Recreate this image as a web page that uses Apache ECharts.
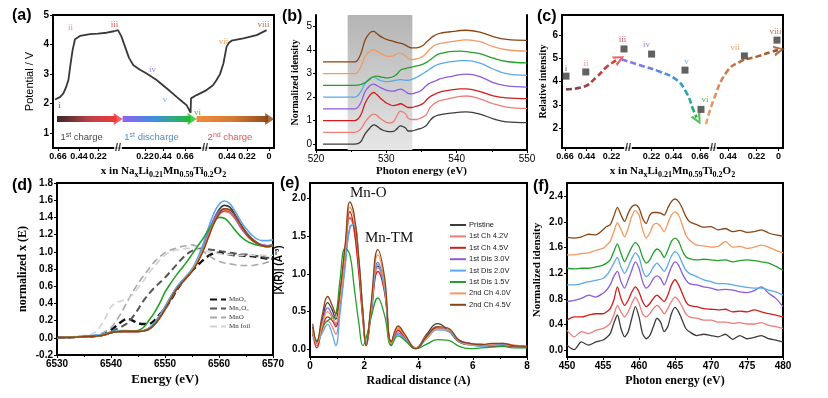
<!DOCTYPE html>
<html>
<head>
<meta charset="utf-8">
<script src="https://cdn.jsdelivr.net/npm/echarts@6.0.0/dist/echarts.min.js"></script>
<style>
  html, body { margin: 0; padding: 0; background: #fff; }
  #chart { width: 828px; height: 398px; }
</style>
</head>
<body>
<div id="chart"></div>
<script>
// ---------- shared ----------
const sampleNames = ['Pristine', '1st Ch 4.2V', '1st Ch 4.5V', '1st Dis 3.0V', '1st Dis 2.0V', '1st Dis 1.5V', '2nd Ch 4.0V', '2nd Ch 4.5V'];
const sampleColors = ['#3c3c3c', '#f07c78', '#d01e1e', '#8c5cdc', '#5aaae8', '#23a02a', '#f29a62', '#8b4513'];
const romanLabels = ['i', 'ii', 'iii', 'iv', 'v', 'vi', 'vii', 'viii'];
const romanColors = ['#333333', '#e87a70', '#d62a2a', '#8a60d8', '#4aa0e0', '#2aa02a', '#f08a40', '#a0501e'];
const xTickLabels = ['0.66', '0.44', '0.22', '0.22', '0.44', '0.66', '0.44', '0.22', '0'];

// ---------- (a) charge / discharge ----------
const aTickPos = [0, 1.05, 2.0, 4.35, 5.25, 6.35, 8.45, 9.45, 10.55];
const aBreaks = [3.0, 7.35];
const aPos = [-0.15, 0.1, 0.27, 0.4, 0.52, 0.62, 0.73, 0.85, 1.1, 1.6, 2.0, 2.43, 2.8, 3.0, 3.1, 3.18, 3.35, 3.55, 3.77, 4.1, 4.43, 4.93, 5.43, 5.93, 6.25, 6.43, 6.55, 6.63, 6.65, 6.93, 7.43, 7.75, 7.93, 8.1, 8.27, 8.43, 8.55, 8.68, 9.27, 9.93, 10.43];
const aVolt = [2.14, 2.22, 2.35, 2.55, 2.8, 3.3, 3.81, 4.18, 4.29, 4.35, 4.37, 4.4, 4.45, 4.49, 4.52, 4.26, 3.93, 3.55, 3.3, 3.15, 3.02, 2.8, 2.52, 2.23, 2.05, 1.95, 1.8, 1.69, 2.18, 2.29, 2.46, 2.62, 2.8, 3.0, 3.36, 3.93, 4.06, 4.13, 4.21, 4.32, 4.49];
const aRomanPos = [0.07, 0.63, 2.82, 4.73, 5.35, 6.98, 8.27, 10.27];
const aRomanV = [1.93, 4.58, 4.66, 3.14, 2.15, 1.68, 4.1, 4.66];
const aStageStart = [-0.05, 3.23, 6.93];
const aStageEnd = [3.23, 6.93, 10.8];
const aStageV = 1.48;
const aStageLabelPos = [1.18, 4.68, 8.6];

// ---------- (b) O K-edge ----------
const bE = [521, 525.5, 526.3, 527, 527.7, 528.2, 528.6, 529.1, 529.6, 530, 530.5, 531, 531.5, 532, 532.7, 533.1, 533.6, 534.3, 534.8, 535.3, 535.7, 536.2, 536.7, 537.2, 537.6, 538.6, 539.5, 540.5, 541.4, 543.3, 545.2, 547.1, 550];
const bPristine = [0, 0, 0.08, 0.45, 0.7, 0.82, 0.78, 0.66, 0.58, 0.55, 0.53, 0.54, 0.65, 0.78, 0.7, 0.56, 0.56, 0.62, 0.66, 0.72, 0.8, 1.0, 1.15, 1.22, 1.25, 1.3, 1.33, 1.36, 1.37, 1.28, 1.08, 0.95, 0.92];
const bCh42 = [0.5, 0.5, 0.62, 0.95, 1.2, 1.28, 1.24, 1.1, 1.0, 0.93, 0.9, 0.95, 1.2, 1.4, 1.3, 1.1, 1.05, 1.05, 1.1, 1.17, 1.26, 1.55, 1.7, 1.8, 1.85, 1.92, 1.98, 2.03, 2.05, 1.93, 1.72, 1.58, 1.52];
const bCh45 = [1.0, 1.0, 1.2, 1.75, 2.1, 2.2, 2.12, 1.98, 1.85, 1.75, 1.68, 1.64, 1.67, 1.72, 1.62, 1.56, 1.56, 1.62, 1.66, 1.75, 1.88, 2.02, 2.1, 2.17, 2.22, 2.28, 2.32, 2.35, 2.35, 2.24, 2.06, 1.97, 1.94];
const bDis30 = [1.5, 1.5, 1.72, 2.25, 2.5, 2.56, 2.5, 2.42, 2.35, 2.3, 2.27, 2.26, 2.3, 2.34, 2.24, 2.16, 2.14, 2.2, 2.25, 2.38, 2.5, 2.6, 2.66, 2.72, 2.78, 2.85, 2.9, 2.96, 2.98, 2.88, 2.62, 2.48, 2.43];
const bDis20 = [2.0, 2.0, 2.2, 2.6, 2.8, 2.86, 2.8, 2.72, 2.68, 2.66, 2.67, 2.7, 2.73, 2.75, 2.72, 2.72, 2.76, 2.85, 2.93, 3.02, 3.1, 3.2, 3.3, 3.38, 3.42, 3.48, 3.52, 3.56, 3.56, 3.45, 3.2, 3.0, 2.93];
const bDis15 = [2.5, 2.5, 2.53, 2.62, 2.78, 2.88, 2.9, 2.87, 2.84, 2.82, 2.83, 2.88, 2.98, 3.15, 3.22, 3.25, 3.28, 3.33, 3.37, 3.42, 3.48, 3.58, 3.7, 3.8, 3.85, 3.92, 3.95, 3.96, 3.94, 3.85, 3.66, 3.52, 3.46];
const bCh240 = [3.0, 3.0, 3.25, 3.75, 3.97, 4.02, 3.97, 3.88, 3.8, 3.75, 3.74, 3.76, 3.85, 3.88, 3.76, 3.65, 3.6, 3.63, 3.68, 3.76, 3.88, 4.05, 4.18, 4.25, 4.28, 4.33, 4.38, 4.42, 4.44, 4.37, 4.15, 4.02, 3.96];
const bCh245 = [3.5, 3.5, 3.8, 4.45, 4.75, 4.8, 4.72, 4.6, 4.52, 4.46, 4.42, 4.38, 4.33, 4.3, 4.22, 4.15, 4.1, 4.1, 4.14, 4.22, 4.35, 4.48, 4.6, 4.68, 4.72, 4.77, 4.8, 4.84, 4.85, 4.77, 4.58, 4.46, 4.42];
const bShade = [524.5, 533.7];

// ---------- (c) relative intensity ----------
const cTickPos = [-0.1, 0.98, 2.23, 4.23, 5.32, 6.65, 8.05, 9.48, 10.57];
const cBreaks = [3.05, 7.3];
const cPos = [-0.05, 0.94, 2.85, 4.23, 5.9, 6.7, 8.87, 10.5];
const cInt = [4.23, 4.41, 5.4, 5.18, 4.49, 2.8, 5.1, 5.78];
const cRomanPos = [-0.05, 0.95, 2.78, 3.98, 5.98, 6.9, 8.4, 10.43];
const cRomanV = [4.57, 4.78, 5.79, 5.6, 4.85, 3.21, 5.45, 6.13];
const cTrend1Pos = [-0.05, 0.82, 1.49, 1.99, 2.5];
const cTrend1V = [3.66, 3.77, 4.2, 4.63, 4.93];
const cTrend2Pos = [2.74, 3.65, 4.65, 5.49, 5.99, 6.32, 6.48];
const cTrend2V = [4.95, 4.7, 4.42, 4.06, 3.49, 2.77, 2.45];
const cTrend3Pos = [6.95, 7.32, 7.99, 8.65, 9.49, 10.24, 10.55];
const cTrend3V = [2.16, 3.19, 4.42, 4.85, 5.07, 5.28, 5.35];
const cHeadPos = [2.62, 6.55, 10.62];
const cHeadV = [4.98, 2.36, 5.36];

// ---------- (d) Mn K-edge XANES ----------
const dE = [6530, 6534, 6537, 6538.5, 6540, 6541, 6542, 6543, 6544, 6545, 6546, 6547, 6548, 6549, 6550, 6551, 6552, 6553, 6554, 6555, 6556, 6557, 6558, 6559, 6560, 6561, 6562, 6563, 6564, 6565, 6566, 6567, 6568, 6569, 6570];
const dPristine = [0, 0.01, 0.02, 0.03, 0.06, 0.07, 0.075, 0.075, 0.075, 0.075, 0.08, 0.11, 0.17, 0.26, 0.36, 0.47, 0.57, 0.65, 0.71, 0.78, 0.88, 1.02, 1.2, 1.37, 1.49, 1.54, 1.52, 1.43, 1.32, 1.23, 1.16, 1.11, 1.08, 1.07, 1.08];
const dCh42 = [0, 0.01, 0.02, 0.03, 0.06, 0.07, 0.075, 0.075, 0.075, 0.075, 0.08, 0.1, 0.15, 0.24, 0.34, 0.45, 0.56, 0.64, 0.71, 0.79, 0.9, 1.04, 1.2, 1.34, 1.44, 1.47, 1.45, 1.38, 1.28, 1.2, 1.14, 1.1, 1.08, 1.07, 1.07];
const dCh45 = [0, 0.01, 0.02, 0.03, 0.06, 0.07, 0.075, 0.075, 0.075, 0.075, 0.08, 0.1, 0.15, 0.23, 0.33, 0.44, 0.55, 0.63, 0.7, 0.78, 0.89, 1.03, 1.19, 1.33, 1.43, 1.48, 1.47, 1.4, 1.3, 1.21, 1.14, 1.1, 1.07, 1.06, 1.07];
const dDis30 = [0, 0.01, 0.02, 0.03, 0.06, 0.07, 0.075, 0.075, 0.075, 0.075, 0.08, 0.11, 0.16, 0.25, 0.35, 0.46, 0.56, 0.64, 0.71, 0.79, 0.9, 1.05, 1.22, 1.37, 1.47, 1.5, 1.47, 1.39, 1.29, 1.21, 1.15, 1.1, 1.08, 1.07, 1.08];
const dDis20 = [0, 0.015, 0.03, 0.04, 0.07, 0.08, 0.085, 0.085, 0.08, 0.08, 0.085, 0.11, 0.17, 0.26, 0.36, 0.47, 0.57, 0.65, 0.72, 0.8, 0.92, 1.08, 1.27, 1.44, 1.55, 1.59, 1.56, 1.47, 1.36, 1.27, 1.2, 1.15, 1.13, 1.13, 1.14];
const dDis15 = [0, 0.01, 0.02, 0.03, 0.06, 0.07, 0.075, 0.08, 0.08, 0.085, 0.12, 0.2, 0.29, 0.4, 0.53, 0.63, 0.72, 0.8, 0.88, 0.97, 1.06, 1.15, 1.25, 1.34, 1.4, 1.39, 1.33, 1.25, 1.18, 1.13, 1.1, 1.08, 1.07, 1.07, 1.08];
const dCh240 = [0, 0.01, 0.02, 0.03, 0.06, 0.07, 0.075, 0.075, 0.075, 0.075, 0.08, 0.1, 0.15, 0.23, 0.33, 0.44, 0.55, 0.63, 0.7, 0.78, 0.89, 1.02, 1.18, 1.33, 1.44, 1.49, 1.48, 1.41, 1.31, 1.22, 1.15, 1.1, 1.07, 1.06, 1.07];
const dCh245 = [0, 0.01, 0.02, 0.03, 0.06, 0.07, 0.075, 0.075, 0.075, 0.075, 0.08, 0.1, 0.15, 0.23, 0.33, 0.44, 0.55, 0.63, 0.7, 0.77, 0.87, 1.0, 1.16, 1.32, 1.44, 1.5, 1.49, 1.42, 1.32, 1.22, 1.15, 1.1, 1.07, 1.06, 1.07];
const refNames = ['MnO₂', 'Mn₂O₃', 'MnO', 'Mn foil'];
const dMnO2 = [0, 0.01, 0.02, 0.04, 0.09, 0.14, 0.19, 0.22, 0.2, 0.17, 0.16, 0.16, 0.2, 0.27, 0.34, 0.43, 0.54, 0.63, 0.71, 0.78, 0.84, 0.9, 0.95, 0.98, 0.99, 0.98, 0.97, 0.96, 0.96, 0.95, 0.95, 0.94, 0.93, 0.92, 0.92];
const dMn2O3 = [0, 0.01, 0.02, 0.04, 0.07, 0.1, 0.13, 0.17, 0.24, 0.33, 0.43, 0.51, 0.58, 0.64, 0.7, 0.77, 0.84, 0.91, 0.97, 1.01, 1.03, 1.04, 1.03, 1.02, 1.01, 1.0, 0.99, 0.98, 0.97, 0.97, 0.96, 0.95, 0.94, 0.93, 0.93];
const dMnO = [0, 0.01, 0.03, 0.06, 0.12, 0.2, 0.3, 0.42, 0.53, 0.63, 0.72, 0.8, 0.88, 0.94, 0.99, 1.02, 1.04, 1.06, 1.07, 1.08, 1.06, 1.01, 0.96, 0.92, 0.89, 0.87, 0.86, 0.85, 0.84, 0.84, 0.84, 0.85, 0.86, 0.88, 0.89];
const dMnFoil = [0, 0.02, 0.06, 0.18, 0.36, 0.41, 0.43, 0.45, 0.5, 0.58, 0.66, 0.75, 0.83, 0.9, 0.96, 1.0, 1.02, 1.03, 1.04, 1.04, 1.03, 1.02, 1.0, 0.99, 0.98, 0.97, 0.97, 0.96, 0.96, 0.96, 0.96, 0.96, 0.96, 0.96, 0.96];

// ---------- (e) Fourier-transformed EXAFS ----------
const eR = [0.1, 0.25, 0.45, 0.65, 0.82, 0.95, 1.1, 1.3, 1.47, 1.62, 1.8, 1.95, 2.07, 2.25, 2.5, 2.75, 3.0, 3.25, 3.5, 3.9, 4.3, 4.7, 5.1, 5.5, 5.9, 6.3, 6.7, 7.1, 7.5, 8.0];
const ePristine = [0.3, 0.1, 0.38, 0.62, 0.52, 0.4, 0.7, 1.3, 1.74, 1.62, 1.1, 0.45, 0.08, 0.55, 1.1, 0.8, 0.1, 0.28, 0.18, 0.02, 0.2, 0.34, 0.25, 0.1, 0.07, 0.07, 0.05, 0.06, 0.04, 0.03];
const eCh42 = [0.2, 0.05, 0.25, 0.38, 0.3, 0.2, 0.55, 1.25, 1.75, 1.6, 1.05, 0.42, 0.06, 0.5, 1.08, 0.78, 0.08, 0.26, 0.17, 0.02, 0.18, 0.28, 0.24, 0.12, 0.08, 0.05, 0.06, 0.08, 0.05, 0.04];
const eCh45 = [0.25, 0.02, 0.28, 0.43, 0.38, 0.3, 0.65, 1.35, 1.82, 1.6, 1.0, 0.38, 0.05, 0.45, 1.03, 0.75, 0.05, 0.25, 0.16, 0.01, 0.16, 0.28, 0.25, 0.1, 0.06, 0.05, 0.04, 0.05, 0.04, 0.03];
const eDis30 = [0.2, 0.08, 0.35, 0.55, 0.45, 0.33, 0.55, 1.15, 1.62, 1.65, 1.15, 0.48, 0.07, 0.52, 1.15, 0.82, 0.07, 0.22, 0.15, 0.02, 0.17, 0.27, 0.26, 0.12, 0.08, 0.05, 0.06, 0.07, 0.05, 0.04];
const eDis20 = [0.15, 0.1, 0.22, 0.33, 0.2, 0.05, 0.45, 1.1, 1.6, 1.66, 1.2, 0.5, 0.08, 0.5, 1.12, 0.8, 0.06, 0.2, 0.13, 0.01, 0.14, 0.26, 0.24, 0.1, 0.06, 0.04, 0.05, 0.06, 0.05, 0.04];
const eDis15 = [0.2, 0.12, 0.3, 0.38, 0.42, 0.45, 0.9, 1.34, 1.25, 0.85, 0.35, 0.05, 0.15, 0.42, 0.68, 0.45, 0.06, 0.18, 0.12, 0.01, 0.07, 0.13, 0.12, 0.04, 0.01, 0.02, 0.03, 0.04, 0.02, 0.02];
const eCh240 = [0.25, 0.08, 0.32, 0.5, 0.42, 0.35, 0.62, 1.3, 1.88, 1.75, 1.15, 0.45, 0.06, 0.55, 1.25, 0.88, 0.08, 0.28, 0.18, 0.02, 0.15, 0.27, 0.26, 0.12, 0.06, 0.05, 0.07, 0.08, 0.06, 0.04];
const eCh245 = [0.34, 0.1, 0.45, 0.7, 0.58, 0.47, 0.75, 1.4, 1.95, 1.8, 1.2, 0.5, 0.05, 0.6, 1.32, 0.95, 0.1, 0.31, 0.2, 0.01, 0.17, 0.3, 0.28, 0.12, 0.08, 0.06, 0.08, 0.08, 0.05, 0.04];

// ---------- (f) Ti L-edge ----------
const fE = [450, 451, 452, 453, 454, 455, 455.5, 456, 456.5, 457, 457.5, 458, 458.5, 459, 459.5, 460, 460.5, 461, 461.5, 462, 462.5, 463, 463.5, 464, 464.5, 465, 465.5, 466, 466.5, 467, 468, 469, 470, 471, 472, 473, 474, 475, 476, 477, 478, 479, 480];
const fPristine = [0.08, 0.01, 0.13, 0.08, 0.13, 0.16, 0.2, 0.26, 0.42, 0.55, 0.34, 0.21, 0.29, 0.5, 0.68, 0.52, 0.26, 0.18, 0.23, 0.37, 0.5, 0.44, 0.29, 0.37, 0.57, 0.67, 0.6, 0.47, 0.34, 0.29, 0.23, 0.25, 0.23, 0.21, 0.25, 0.17, 0.23, 0.18, 0.2, 0.23, 0.18, 0.16, 0.13];
const fCh42 = [0.31, 0.21, 0.29, 0.26, 0.31, 0.34, 0.37, 0.42, 0.55, 0.7, 0.6, 0.52, 0.6, 0.73, 0.83, 0.73, 0.57, 0.52, 0.57, 0.65, 0.7, 0.65, 0.57, 0.65, 0.76, 0.83, 0.78, 0.68, 0.57, 0.52, 0.5, 0.47, 0.47, 0.44, 0.44, 0.42, 0.43, 0.41, 0.41, 0.43, 0.39, 0.37, 0.34];
const fCh45 = [0.47, 0.52, 0.52, 0.55, 0.57, 0.57, 0.6, 0.65, 0.78, 0.99, 0.81, 0.7, 0.78, 0.91, 0.99, 0.91, 0.76, 0.68, 0.73, 0.81, 0.86, 0.81, 0.76, 0.86, 1.02, 1.1, 1.02, 0.89, 0.76, 0.7, 0.68, 0.65, 0.64, 0.63, 0.64, 0.6, 0.61, 0.6, 0.63, 0.6, 0.57, 0.55, 0.52];
const fDis30 = [0.76, 0.78, 0.81, 0.86, 0.83, 0.89, 0.94, 1.02, 1.15, 1.23, 1.07, 0.97, 1.1, 1.25, 1.38, 1.28, 1.07, 0.97, 1.02, 1.12, 1.16, 1.12, 1.02, 1.15, 1.3, 1.38, 1.33, 1.2, 1.1, 1.04, 1.02, 0.99, 0.97, 0.94, 0.95, 0.94, 0.91, 0.9, 0.93, 0.99, 0.89, 0.81, 0.68];
const fDis20 = [1.02, 1.02, 1.04, 1.07, 1.09, 1.12, 1.17, 1.25, 1.36, 1.45, 1.3, 1.2, 1.3, 1.43, 1.52, 1.45, 1.25, 1.15, 1.2, 1.3, 1.36, 1.3, 1.23, 1.33, 1.47, 1.54, 1.49, 1.36, 1.25, 1.2, 1.15, 1.1, 1.07, 1.04, 1.04, 1.02, 1.0, 0.98, 0.97, 0.97, 0.94, 0.91, 0.86];
const fDis15 = [1.28, 1.27, 1.28, 1.28, 1.3, 1.33, 1.36, 1.41, 1.54, 1.66, 1.51, 1.38, 1.49, 1.61, 1.68, 1.62, 1.45, 1.36, 1.41, 1.52, 1.58, 1.54, 1.45, 1.56, 1.7, 1.75, 1.7, 1.56, 1.46, 1.43, 1.41, 1.42, 1.41, 1.4, 1.41, 1.38, 1.4, 1.41, 1.4, 1.38, 1.36, 1.31, 1.25];
const fCh240 = [1.49, 1.49, 1.51, 1.52, 1.56, 1.59, 1.64, 1.7, 1.85, 1.99, 1.88, 1.77, 1.9, 2.09, 2.18, 2.11, 1.88, 1.75, 1.83, 1.96, 1.98, 1.93, 1.85, 1.98, 2.11, 2.16, 2.11, 1.96, 1.8, 1.72, 1.64, 1.63, 1.61, 1.62, 1.7, 1.61, 1.62, 1.59, 1.61, 1.64, 1.61, 1.56, 1.52];
const fCh245 = [1.76, 1.75, 1.77, 1.81, 1.8, 1.88, 1.93, 1.96, 2.09, 2.23, 2.11, 2.01, 2.14, 2.24, 2.27, 2.22, 2.06, 1.98, 2.11, 2.15, 2.15, 2.14, 2.11, 2.22, 2.32, 2.36, 2.32, 2.22, 2.09, 2.01, 1.96, 1.92, 1.93, 1.88, 1.9, 1.85, 1.87, 1.84, 1.85, 1.88, 1.83, 1.8, 1.78];

// ---------- styling helpers ----------
const SANS = 'Liberation Sans, Arial, sans-serif';
const SERIF = 'Liberation Serif, Times New Roman, serif';
const G = echarts.graphic;

const bSeries = [bPristine, bCh42, bCh45, bDis30, bDis20, bDis15, bCh240, bCh245];
const dSeries = [dPristine, dCh42, dCh45, dDis30, dDis20, dDis15, dCh240, dCh245];
const eSeries = [ePristine, eCh42, eCh45, eDis30, eDis20, eDis15, eCh240, eCh245];
const fSeries = [fPristine, fCh42, fCh45, fDis30, fDis20, fDis15, fCh240, fCh245];
const refSeries = [dMnO2, dMn2O3, dMnO, dMnFoil];
const refStyles = [
    {color: '#111', width: 2.4},
    {color: '#555', width: 2},
    {color: '#a8a8a8', width: 1.6},
    {color: '#d2d2d2', width: 1.6}
];

function zip(xs, ys) {
    return xs.map((x, i) => [x, ys[i]])
}

function labelFont(bold, size) {
    return {fontFamily: SANS, fontWeight: bold ? 'bold' : 'normal', fontSize: size || 10, color: '#000', margin: 4}
}

function valueAxis(gi, opts) {
    const o = opts || {};
    return {
        type: 'value', gridIndex: gi,
        min: o.min, max: o.max, interval: o.interval,
        position: o.position,
        name: o.name, nameLocation: 'middle', nameGap: o.nameGap, nameTextStyle: o.nameTextStyle,
        axisLine: {show: true, onZero: false, lineStyle: {color: '#000', width: 2}},
        axisTick: {show: o.tick !== false, length: 3, customValues: o.custom, lineStyle: {color: '#000', width: 1}},
        minorTick: {show: !!o.minor, splitNumber: 2, length: 2, lineStyle: {color: '#000'}},
        axisLabel: Object.assign(labelFont(o.bold !== false, o.fontSize), {
            show: o.label !== false, customValues: o.custom, formatter: o.formatter || (v => String(v))
        }),
        splitLine: {show: false}
    }
}

const compRich = {
    t: {fontFamily: SERIF, fontWeight: 'bold', fontSize: 11, color: '#000', verticalAlign: 'top'},
    s: {fontFamily: SERIF, fontWeight: 'bold', fontSize: 8, color: '#000', verticalAlign: 'bottom', padding: [5, 0, 0, 0]}
};
const compName = '{t|x in Na}{s|x}{t|Li}{s|0.21}{t|Mn}{s|0.59}{t|Ti}{s|0.2}{t|O}{s|2}';
const serifTitle = size => ({fontFamily: SERIF, fontWeight: 'bold', fontSize: size, color: '#000'});

function curve(name, color, gi, xs, ys, width, smooth) {
    return {
        type: 'line', name, xAxisIndex: gi, yAxisIndex: gi,
        data: zip(xs, ys), symbol: 'none', smooth: smooth,
        lineStyle: {color, width}, itemStyle: {color}, z: 3
    }
}

function textPoints(gi, xs, ys, texts, colors, extra) {
    return {
        type: 'scatter', xAxisIndex: gi, yAxisIndex: gi, symbolSize: 0, silent: true, z: 6,
        data: xs.map((x, i) => ({
            value: [x, ys[i]],
            label: Object.assign({
                show: true, position: 'inside', formatter: texts[i], color: colors[i]
            }, extra)
        }))
    }
}

function breakMarks(gi, xs, y) {
    return textPoints(gi, xs, xs.map(() => y), xs.map(() => '//'), xs.map(() => '#000'),
        {fontFamily: SANS, fontWeight: 'bold', fontSize: 11, backgroundColor: '#fff', padding: [0, 1]})
}

const stageGrad = [
    [[0, '#2e2626'], [0.55, '#c0404a'], [1, '#f23a3a']],
    [[0, '#9b5cf2'], [0.45, '#3f8fe2'], [1, '#1fbf2a']],
    [[0, '#f58a3a'], [0.5, '#d77a34'], [1, '#8e4616']]
];

// ---------- options ----------
const grid = [
    {left: 53, top: 15, width: 221, height: 133},
    {left: 316, top: 15, width: 211, height: 135},
    {left: 562, top: 15, width: 221, height: 133},
    {left: 57, top: 183, width: 216, height: 172},
    {left: 310, top: 183, width: 217, height: 174},
    {left: 567, top: 183, width: 216, height: 174}
].map((g, i) => Object.assign({show: i !== 1, borderColor: '#000', borderWidth: 2}, g));

const xAxis = [
    valueAxis(0, {min: -0.25, max: 10.8, custom: aTickPos, fontSize: 9, formatter: v => xTickLabels[aTickPos.indexOf(v)],
        name: compName, nameGap: 18, nameTextStyle: {rich: compRich}}),
    valueAxis(1, {min: 520, max: 550, interval: 10, minor: true, bold: false,
        name: 'Photon energy (eV)', nameGap: 16, nameTextStyle: serifTitle(11)}),
    valueAxis(2, {min: -0.25, max: 10.8, custom: cTickPos, fontSize: 9, formatter: v => xTickLabels[cTickPos.indexOf(v)],
        name: compName, nameGap: 18, nameTextStyle: {rich: compRich}}),
    valueAxis(3, {min: 6530, max: 6570, interval: 10, minor: true,
        name: 'Energy (eV)', nameGap: 18, nameTextStyle: serifTitle(13)}),
    valueAxis(4, {min: 0, max: 8, interval: 2, minor: true,
        name: 'Radical distance (A)', nameGap: 18, nameTextStyle: serifTitle(12)}),
    valueAxis(5, {min: 450, max: 480, interval: 5,
        name: 'Photon energy (eV)', nameGap: 18, nameTextStyle: serifTitle(12)})
];

const yAxis = [
    valueAxis(0, {min: 0.5, max: 5, custom: [1, 2, 3, 4, 5],
        name: 'Potential / V', nameGap: 18, nameTextStyle: {fontFamily: SANS, fontSize: 11, color: '#000'}}),
    valueAxis(1, {min: -0.25, max: 5.5, custom: [0, 1, 2, 3, 4, 5], bold: false,
        name: 'Normalized idensity', nameGap: 16, nameTextStyle: serifTitle(10)}),
    valueAxis(2, {min: 1.14, max: 6.86, custom: [2, 3, 4, 5, 6],
        name: 'Relative intensity', nameGap: 14, nameTextStyle: serifTitle(10)}),
    valueAxis(3, {min: -0.2, max: 1.8, interval: 0.2, formatter: v => v.toFixed(1),
        name: 'normalized x (E)', nameGap: 28, nameTextStyle: serifTitle(12)}),
    valueAxis(4, {min: -0.1, max: 2.2, custom: [0, 0.5, 1, 1.5, 2], formatter: v => v.toFixed(1),
        name: '|X(R)| (A⁻³)', nameGap: 26, nameTextStyle: {fontFamily: SANS, fontWeight: 'bold', fontSize: 10, color: '#000'}}),
    valueAxis(5, {min: -0.105, max: 2.61, custom: [0, 0.4, 0.8, 1.2, 1.6, 2.0, 2.4], formatter: v => v.toFixed(1),
        name: 'Normalized idensity', nameGap: 24, nameTextStyle: serifTitle(11)}),
    valueAxis(1, {min: -0.25, max: 5.5, position: 'right', tick: false, label: false})
];

const series = [];

// (a)
series.push(curve('a', '#383838', 0, aPos, aVolt, 1.8, false));
aStageStart.forEach((s, i) => {
    const c = stageGrad[i];
    series.push({
        type: 'line', xAxisIndex: 0, yAxisIndex: 0, symbol: 'none', silent: true, z: 4,
        data: [[s, aStageV], [aStageEnd[i] - 0.3, aStageV]],
        lineStyle: {width: 6, cap: 'butt', color: new G.LinearGradient(0, 0, 1, 0, c.map(d => ({offset: d[0], color: d[1]})))}
    });
    series.push({
        type: 'scatter', xAxisIndex: 0, yAxisIndex: 0, silent: true, z: 4,
        symbol: 'triangle', symbolSize: [12, 9], symbolRotate: -90,
        data: [[aStageEnd[i] - 0.22, aStageV]], itemStyle: {color: c[c.length - 1][1]}
    });
});
series.push(textPoints(0, aRomanPos, aRomanV, romanLabels, romanColors, {fontFamily: SERIF, fontSize: 9}));
series.push(textPoints(0, aStageLabelPos, [0.87, 0.87, 0.87],
    ['{m|1}{p|st}{m| charge}', '{m|1}{p|st}{m| discharge}', '{m|2}{p|nd}{m| charge}'],
    ['#111', '#2d6db4', '#d42a2a'],
    {rich: {
        m: {fontFamily: SANS, fontSize: 9.5, verticalAlign: 'bottom'},
        p: {fontFamily: SANS, fontSize: 7, verticalAlign: 'top', padding: [0, 0, 4, 0]}
    }}));
series.push(breakMarks(0, aBreaks, 0.5));

// (b)
bSeries.forEach((vals, i) => {
    const s = curve(sampleNames[i], sampleColors[i], 1, bE, vals, 1.3, 0.4);
    if (i === 0) {
        s.markArea = {
            silent: true,
            itemStyle: {color: new G.LinearGradient(0, 0, 0, 1, [
                {offset: 0, color: '#b4b4b4'}, {offset: 1, color: '#e6e6e6'}])},
            data: [[{xAxis: bShade[0]}, {xAxis: bShade[1]}]]
        };
    }
    series.push(s);
});

// (c)
const cTrends = [[cTrend1Pos, cTrend1V], [cTrend2Pos, cTrend2V], [cTrend3Pos, cTrend3V]];
const cGrads = [
    new G.LinearGradient(0, 0, 1, 0, [{offset: 0, color: '#6a4a4a'}, {offset: 1, color: '#e83a3a'}]),
    new G.LinearGradient(0, 0, 1, 1, [{offset: 0, color: '#9a72ea'}, {offset: 0.5, color: '#4a8ee2'}, {offset: 0.8, color: '#2aa8a0'}, {offset: 1, color: '#22b02e'}]),
    new G.LinearGradient(0, 1, 1, 0, [{offset: 0, color: '#f4a878'}, {offset: 1, color: '#9a5020'}])
];
const cHeadColors = ['#e83a3a', '#22b02e', '#9a5020'];
const cHeadRot = [28, -62, 12];
cTrends.forEach((t, i) => {
    series.push({
        type: 'line', xAxisIndex: 2, yAxisIndex: 2, symbol: 'none', smooth: 0.5, silent: true, z: 3,
        data: zip(t[0], t[1]),
        lineStyle: {width: 2.6, type: [6, 3], color: cGrads[i]}
    });
    series.push({
        type: 'scatter', xAxisIndex: 2, yAxisIndex: 2, silent: true, z: 4,
        symbol: 'path://M0,0 L10,5 L0,10 L0,7.6 L6.2,5 L0,2.4 Z', symbolSize: [11, 11],
        symbolRotate: cHeadRot[i],
        data: [[cHeadPos[i], cHeadV[i]]], itemStyle: {color: cHeadColors[i]}
    });
});
series.push({
    type: 'scatter', xAxisIndex: 2, yAxisIndex: 2, symbol: 'rect', symbolSize: 7, z: 5,
    data: zip(cPos, cInt), itemStyle: {color: '#3a3a3a'}
});
series.push(textPoints(2, cRomanPos, cRomanV, romanLabels, romanColors, {fontFamily: SERIF, fontSize: 9}));
series.push(breakMarks(2, cBreaks, 1.14));

// (d)
refSeries.forEach((vals, i) => {
    const s = curve(refNames[i], refStyles[i].color, 3, dE, vals, refStyles[i].width, 0.3);
    s.lineStyle.type = [7, 4];
    s.z = 2;
    series.push(s);
});
dSeries.forEach((vals, i) => series.push(curve(sampleNames[i], sampleColors[i], 3, dE, vals, 1.6, 0.4)));

// (e)
eSeries.forEach((vals, i) => series.push(curve(sampleNames[i], sampleColors[i], 4, eR, vals, 1.3, 0.45)));

// (f)
fSeries.forEach((vals, i) => series.push(curve(sampleNames[i], sampleColors[i], 5, fE, vals, 1.3, 0.25)));

const panelLabel = (text, left, top) => ({
    type: 'text', left, top, z: 10,
    style: {text, font: 'bold 16px ' + SANS, fill: '#000'}
});

const option = {
    animation: false,
    backgroundColor: '#fff',
    grid, xAxis, yAxis, series,
    legend: [
        {
            data: refNames, orient: 'vertical', left: 204, top: 291,
            itemWidth: 16, itemHeight: 6, itemGap: 2,
            itemStyle: {opacity: 0},
            textStyle: {fontFamily: SERIF, fontSize: 7, color: '#333', padding: [0, 0, 0, -2]}
        },
        {
            data: sampleNames, orient: 'vertical', left: 444, top: 216,
            itemWidth: 16, itemHeight: 5, itemGap: 3.4,
            itemStyle: {opacity: 0},
            textStyle: {fontFamily: SANS, fontSize: 7.5, color: '#222', padding: [0, 0, 0, -2]}
        }
    ],
    graphic: [
        panelLabel('(a)', 12, 8),
        panelLabel('(b)', 282, 9),
        panelLabel('(c)', 537, 9),
        panelLabel('(d)', 12, 178),
        panelLabel('(e)', 280, 176),
        panelLabel('(f)', 533, 179),
        {type: 'text', left: 350, top: 186, z: 10, style: {text: 'Mn-O', font: '15px ' + SERIF, fill: '#111'}},
        {type: 'text', left: 365, top: 231, z: 10, style: {text: 'Mn-TM', font: '15px ' + SERIF, fill: '#111'}}
    ]
};

const chart = echarts.init(document.getElementById('chart'), null, {renderer: 'canvas'});
chart.setOption(option);
</script>
</body>
</html>
